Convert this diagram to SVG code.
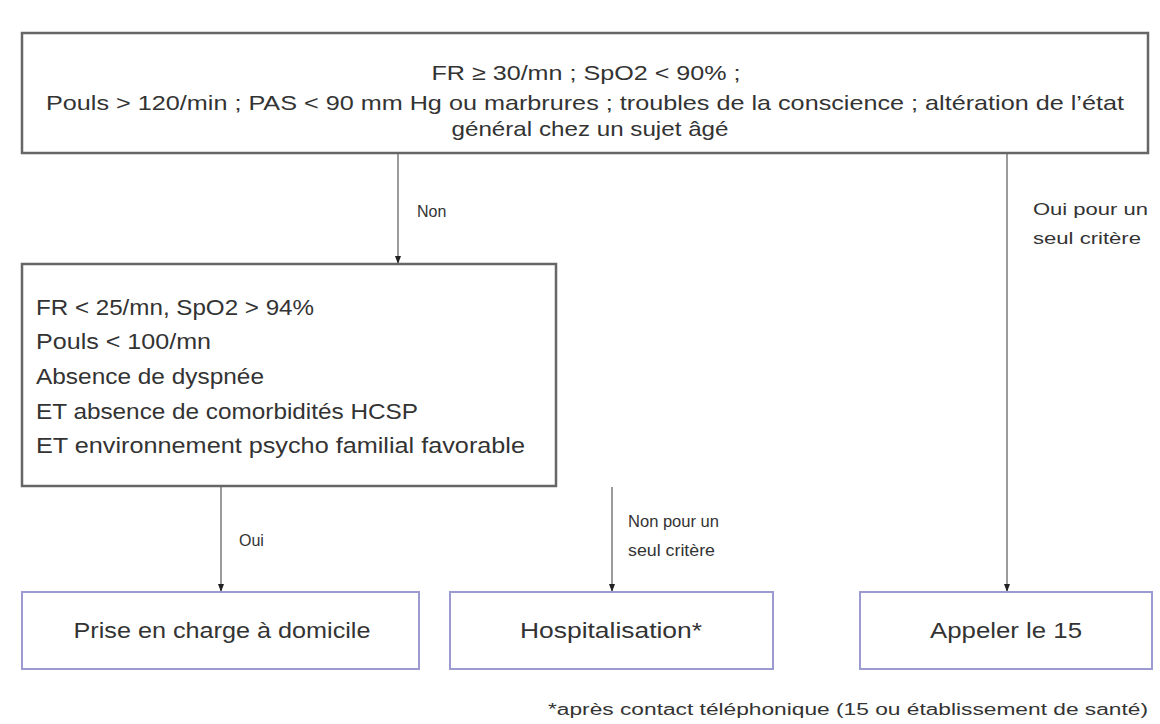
<svg xmlns="http://www.w3.org/2000/svg" width="1160" height="724" viewBox="0 0 1160 724">
<style>
.box{fill:#fff;stroke:#666;stroke-width:2.5}
.out{fill:#fff;stroke:#9b9bd2;stroke-width:2}
.t{font-family:"Liberation Sans",Arial,sans-serif;fill:#333}
.top{font-size:21px}
.main{font-size:22px}
.lab{font-size:16px}
.con{stroke:#7a7a7a;stroke-width:1.5;fill:none;marker-end:url(#ah)}
</style>
<defs>
<marker id="ah" markerWidth="8" markerHeight="8" refX="7" refY="4" orient="auto" markerUnits="userSpaceOnUse">
<path d="M0,1 L8,4 L0,7 Z" fill="#222"/>
</marker>
</defs>
<rect width="1160" height="724" fill="#fff"/>
<g id="connectors">
<line class="con" x1="398" y1="154" x2="398" y2="263"/>
<line class="con" x1="1007" y1="154" x2="1007" y2="591"/>
<line class="con" x1="221" y1="487" x2="221" y2="591"/>
<line class="con" x1="612" y1="487" x2="612" y2="591"/>
<text class="t lab" x="417" y="217">Non</text>
<text class="t lab" x="1033" y="215" textLength="115" lengthAdjust="spacingAndGlyphs">Oui pour un</text>
<text class="t lab" x="1033" y="244" textLength="108" lengthAdjust="spacingAndGlyphs">seul critère</text>
<text class="t lab" x="239" y="546">Oui</text>
<text class="t lab" x="628" y="527" textLength="91" lengthAdjust="spacingAndGlyphs">Non pour un</text>
<text class="t lab" x="628" y="556" textLength="87" lengthAdjust="spacingAndGlyphs">seul critère</text>
</g>
<g id="n_top">
<rect class="box" x="22" y="33" width="1126" height="120"/>
<text class="t top" x="586" y="80" text-anchor="middle" textLength="309" lengthAdjust="spacingAndGlyphs">FR ≥ 30/mn ; SpO2 &lt; 90% ;</text>
<text class="t top" x="585" y="110" text-anchor="middle" textLength="1078" lengthAdjust="spacingAndGlyphs">Pouls &gt; 120/min ; PAS &lt; 90 mm Hg ou marbrures ; troubles de la conscience ; altération de l’état</text>
<text class="t top" x="590" y="136" text-anchor="middle" textLength="277" lengthAdjust="spacingAndGlyphs">général chez un sujet âgé</text>
</g>
<g id="n_criteria">
<rect class="box" x="22" y="264" width="534" height="222"/>
<text class="t main" x="36" y="315" textLength="278" lengthAdjust="spacingAndGlyphs">FR &lt; 25/mn, SpO2 &gt; 94%</text>
<text class="t main" x="36" y="349" textLength="175" lengthAdjust="spacingAndGlyphs">Pouls &lt; 100/mn</text>
<text class="t main" x="36" y="384" textLength="228" lengthAdjust="spacingAndGlyphs">Absence de dyspnée</text>
<text class="t main" x="36" y="419" textLength="382" lengthAdjust="spacingAndGlyphs">ET absence de comorbidités HCSP</text>
<text class="t main" x="36" y="453" textLength="489" lengthAdjust="spacingAndGlyphs">ET environnement  psycho familial favorable</text>
</g>
<g id="n_domicile">
<rect class="out" x="22" y="592" width="397" height="77"/>
<text class="t main" x="222" y="638" text-anchor="middle" textLength="297" lengthAdjust="spacingAndGlyphs">Prise en charge à domicile</text>
</g>
<g id="n_hospit">
<rect class="out" x="450" y="592" width="323" height="77"/>
<text class="t main" x="611" y="638" text-anchor="middle" textLength="182" lengthAdjust="spacingAndGlyphs">Hospitalisation*</text>
</g>
<g id="n_15">
<rect class="out" x="860" y="592" width="292" height="77"/>
<text class="t main" x="1006" y="638" text-anchor="middle" textLength="152" lengthAdjust="spacingAndGlyphs">Appeler le 15</text>
</g>
<text class="t lab" x="1148" y="715" text-anchor="end" textLength="600" lengthAdjust="spacingAndGlyphs">*après contact téléphonique (15 ou établissement de santé)</text>
</svg>
